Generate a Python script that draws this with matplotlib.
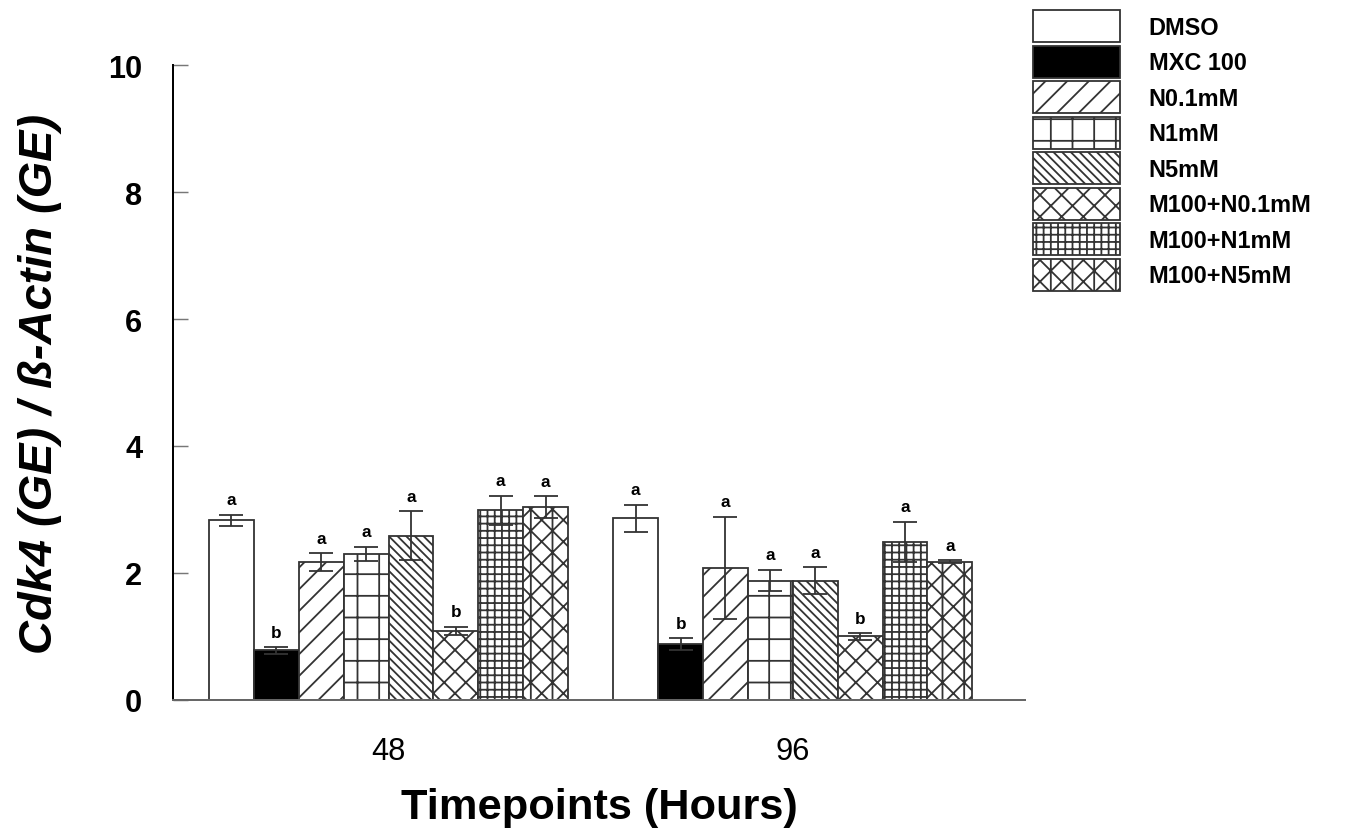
import numpy as np
import matplotlib
matplotlib.use("Agg")
import matplotlib.pyplot as plt

plt.rcParams["font.family"] = ["Liberation Sans", "DejaVu Sans"]
plt.rcParams["hatch.linewidth"] = 1.0

# Cdk4 expression relative to beta-actin, mean and SEM per treatment
hours = ["48", "96"]
treatments = ["DMSO", "MXC 100", "N0.1mM", "N1mM", "N5mM",
              "M100+N0.1mM", "M100+N1mM", "M100+N5mM"]
means_48 = [2.83, 0.78, 2.17, 2.30, 2.59, 1.09, 2.99, 3.04]
sem_48 = [0.09, 0.05, 0.14, 0.11, 0.38, 0.06, 0.23, 0.17]
means_96 = [2.86, 0.88, 2.08, 1.88, 1.88, 1.00, 2.49, 2.18]
sem_96 = [0.21, 0.09, 0.80, 0.17, 0.21, 0.05, 0.32, 0.02]
letters_48 = ["a", "b", "a", "a", "a", "b", "a", "a"]
letters_96 = ["a", "b", "a", "a", "a", "b", "a", "a"]

fills = ["white", "black", "white", "white", "white", "white", "white", "white"]
hatches = ["", "", "//", "+", "\\\\\\\\\\", "xx", "+++", "xx|"]

fig = plt.figure(figsize=(10.4, 6.446), dpi=130)
ax = fig.add_axes([0.128, 0.1635, 0.630, 0.7577])

w = 0.111
groups = np.arange(len(hours))
means = [means_48, means_96]
sems = [sem_48, sem_96]
letters = [letters_48, letters_96]

handles = []
for i, name in enumerate(treatments):
    xs = groups + (i - 3.5) * w
    vals = [m[i] for m in means]
    errs = [s[i] for s in sems]
    b = ax.bar(xs, vals, width=w, color=fills[i], edgecolor="#333333",
               linewidth=1.0, hatch=hatches[i], label=name, zorder=2)
    handles.append(b)
    ax.errorbar(xs, vals, yerr=errs, fmt="none", ecolor="#333333",
                elinewidth=1.0, capsize=6.5, capthick=1.0, zorder=3)
    for x, v, e, g in zip(xs, vals, errs, range(len(hours))):
        ax.text(x, v + e + 0.12, letters[g][i], ha="center", va="bottom",
                fontsize=9.5, fontweight="bold")

ax.set_xlim(-0.533, 1.574)
ax.set_ylim(0, 10)
ax.set_yticks([0, 2, 4, 6, 8, 10])
ax.set_xticks(groups)
ax.set_xticklabels(hours)
ax.tick_params(axis="x", length=0, pad=20, labelsize=17)
ax.tick_params(axis="y", direction="in", length=8.5, width=0.8,
               color="#777777", pad=17, labelsize=17)
for lab in ax.get_yticklabels():
    lab.set_fontweight("bold")

ax.spines["top"].set_visible(False)
ax.spines["right"].set_visible(False)
ax.spines["left"].set_linewidth(1.1)
ax.spines["left"].set_color("black")
ax.spines["bottom"].set_linewidth(1.1)
ax.spines["bottom"].set_color("#666666")

fig.text(40 / 1352, 1 - 384 / 838, "Cdk4 (GE) / ß-Actin (GE)", rotation=90,
         ha="center", va="center", fontsize=26, fontweight="bold",
         style="italic")
fig.text(599 / 1352, 1 - 808 / 838, "Timepoints (Hours)", ha="center",
         va="center", fontsize=24, fontweight="bold")

fig.legend(handles=handles, loc="upper left",
           bbox_to_anchor=(1033 / 1352, 1 - 11 / 838), frameon=False,
           borderpad=0, borderaxespad=0, prop={"weight": "bold", "size": 13},
           handlelength=3.7, handleheight=1.72, labelspacing=0.15,
           handletextpad=1.23)

fig.savefig("out.png", dpi=130)
plt.close(fig)
